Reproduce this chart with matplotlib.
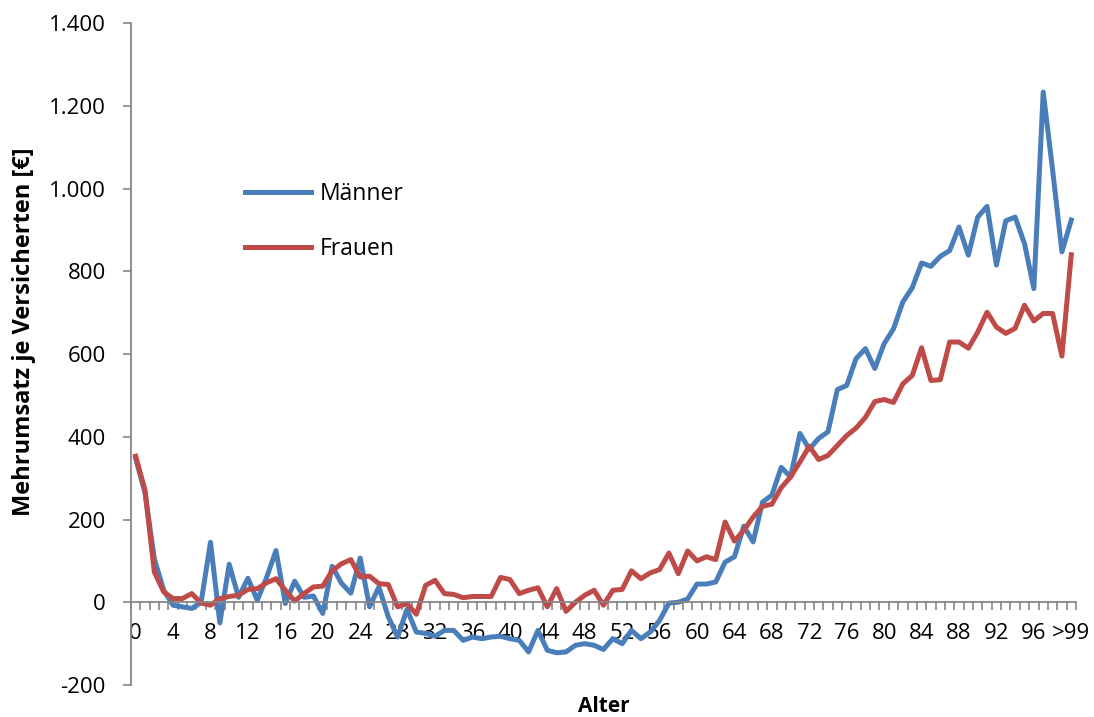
import numpy as np
import matplotlib
matplotlib.use("Agg")
from matplotlib import pyplot as plt
from matplotlib import ticker

# Mehrumsatz je Versicherten nach Alter (0..99, >99)
alter = [str(a) for a in range(100)] + [">99"]

maenner = [348, 265, 105, 29, -7, -11, -15, 0, 145, -50,
           92, 12, 58, 5, 60, 125, -3, 51, 12, 15,
           -27, 87, 46, 22, 107, -11, 37, -35, -84, -17,
           -72, -75, -82, -68, -68, -92, -84, -88, -84, -82,
           -88, -92, -120, -68, -116, -122, -120, -104, -100, -104,
           -114, -88, -100, -68, -88, -72, -44, -2, 0, 8,
           44, 44, 49, 97, 110, 184, 146, 242, 259, 326,
           303, 408, 370, 396, 412, 514, 524, 589, 613, 565,
           625, 661, 726, 760, 820, 812, 836, 850, 907, 839,
           931, 957, 815, 922, 931, 867, 758, 1233, 1046, 847,
           924]

frauen = [353, 271, 73, 25, 9, 9, 21, -2, -7, 9,
          14, 17, 31, 33, 47, 57, 29, 3, 21, 37,
          39, 76, 93, 103, 61, 63, 45, 43, -11, -3,
          -29, 41, 53, 21, 19, 11, 14, 14, 14, 60,
          55, 21, 29, 35, -11, 33, -22, 0, 17, 29,
          -7, 29, 31, 76, 57, 71, 79, 119, 69, 124,
          100, 110, 103, 194, 148, 174, 206, 232, 237, 277,
          303, 339, 377, 345, 355, 379, 403, 421, 447, 485,
          490, 483, 528, 548, 615, 536, 538, 629, 629, 614,
          653, 701, 665, 650, 662, 718, 680, 698, 698, 595,
          840]

y_ticks = list(range(-200, 1401, 200))

plt.rcParams['font.family'] = ['Open Sans', 'DejaVu Sans']

x = np.arange(len(alter))
grey = '#868686'

fig = plt.figure(figsize=(10.94, 7.17), dpi=100)
ax = fig.add_axes([0.1197, 0.0446, 0.8638, 0.9233])

ax.plot(x, maenner, color='#4A7EBB', linewidth=3.6, label='Männer')
ax.plot(x, frauen, color='#BE4B48', linewidth=3.6, label='Frauen')

ax.set_xlim(-0.5, len(alter) - 0.5)
ax.set_ylim(-200, 1400)
ax.set_yticks(y_ticks)
ax.yaxis.set_major_formatter(ticker.FuncFormatter(lambda v, p: f"{int(v):,}".replace(",", ".")))

ax.set_xticks(x[::4])
ax.set_xticklabels(alter[::4])
ax.set_xticks(np.arange(-0.5, len(alter)), minor=True)

for s in ['top', 'right']:
    ax.spines[s].set_visible(False)
ax.spines['bottom'].set_position(('data', 0))
ax.spines['bottom'].set_color(grey)
ax.spines['left'].set_color(grey)
ax.spines['bottom'].set_linewidth(1.3)
ax.spines['left'].set_linewidth(1.3)

ax.tick_params(axis='x', which='major', length=0, pad=15, labelsize=16)
ax.tick_params(axis='x', which='minor', length=6, width=1.2, color=grey, direction='out')
ax.tick_params(axis='y', which='major', length=6, width=1.2, color=grey, direction='out',
               pad=12, labelsize=16)

ax.set_xlabel('Alter', fontweight='bold', fontsize=15)
ax.xaxis.set_label_coords(0.5, -0.017)
ax.set_ylabel('Mehrumsatz je Versicherten [€]', fontweight='bold', fontsize=17)
ax.yaxis.set_label_coords(-0.1, 0.534)

ax.legend(loc='upper left', bbox_to_anchor=(0.1206, 0.76), frameon=False, fontsize=16.5,
          handlelength=2.9, handletextpad=0.35, labelspacing=1.35, borderpad=0, borderaxespad=0)

fig.savefig('out.png', dpi=100)
